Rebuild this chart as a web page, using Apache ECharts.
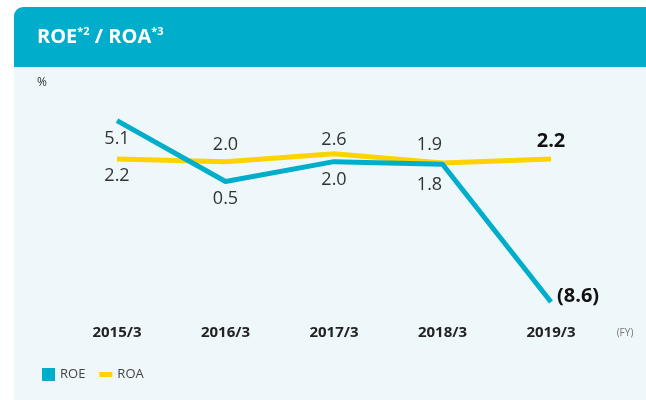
<!DOCTYPE html>
<html><head><meta charset="utf-8">
<script src="https://cdn.jsdelivr.net/npm/echarts@6/dist/echarts.min.js"></script>
<style>html,body{margin:0;padding:0;background:#fff}#c{width:646px;height:400px}</style>
</head><body><div id="c"></div>
<script>
var categories = ['2015/3', '2016/3', '2017/3', '2018/3', '2019/3'];
var roe = [5.1, 0.5, 2.0, 1.8, -8.6];
var roa = [2.2, 2.0, 2.6, 1.9, 2.2];

var TEAL = '#00aecb', YEL = '#ffd200';
var FONT = '"Open Sans", "Noto Sans", sans-serif';
function fmt(p){ var v = p.value; return v < 0 ? '(' + (-v).toFixed(1) + ')' : v.toFixed(1); }

var roeLab = [
  {position:'bottom', distance:9},
  {position:'bottom', distance:8},
  {position:'bottom', distance:9},
  {position:'bottom', distance:12, offset:[-13,0]},
  {position:'right', distance:6, offset:[0,-6], fontWeight:'bold', fontSize:20, color:'#111'}
];
var roaLab = [
  {position:'bottom', distance:8},
  {position:'top', distance:8},
  {position:'top', distance:5},
  {position:'top', distance:9, offset:[-13,0]},
  {position:'top', distance:8, fontWeight:'bold', fontSize:20, color:'#111'}
];
function build(vals, labs){
  return vals.map(function(v,i){ return {value:v, label:labs[i]}; });
}

var chart = echarts.init(document.getElementById('c'), null, {renderer:'canvas'});
chart.setOption({
  backgroundColor:'#fff',
  animation:false,
  textStyle:{fontFamily:FONT},
  graphic:[
    {type:'rect', z:-10, shape:{x:14, y:60, width:640, height:345}, style:{fill:'#eef7fa'}},
    {type:'rect', z:-9, shape:{x:14, y:7, width:640, height:60, r:[9,0,0,0]}, style:{fill:TEAL}},
    {type:'text', z:-8, x:37, y:37, style:{
      text:'ROE{s|*2} / ROA{s|*3}', fill:'#fff', font:'bold 20px ' + FONT, verticalAlign:'middle',
      rich:{s:{fontSize:11, fontWeight:'bold', fill:'#fff', fontFamily:FONT, verticalAlign:'top', padding:[0,0,10,0]}}
    }},
    {type:'text', x:37, y:83, style:{text:'%', fill:'#333', font:'12px ' + FONT, verticalAlign:'middle'}},
    {type:'text', x:625, y:333, style:{text:'(FY)', fill:'#777', font:'10px ' + FONT, align:'center', verticalAlign:'middle'}}
  ],
  legend:{
    left:37, top:363, itemWidth:13, itemHeight:13, itemGap:14,
    textStyle:{fontSize:13, color:'#444', fontFamily:FONT},
    data:[{name:'ROE', icon:'rect'}, {name:'ROA', icon:'path://M0,0h13v5h-13z'}]
  },
  grid:{left:62.75, right:40.75, top:108.7, height:211.8},
  xAxis:{
    type:'category', data:categories, boundaryGap:true,
    axisLine:{show:false, onZero:false}, axisTick:{show:false},
    axisLabel:{margin:5, fontSize:15, fontWeight:'bold', color:'#222', fontFamily:FONT}
  },
  yAxis:{type:'value', min:-10, max:6, show:false, splitLine:{show:false}},
  series:[
    {name:'ROE', type:'line', data:build(roe, roeLab), symbol:'circle', symbolSize:0,
     color:TEAL, lineStyle:{width:5, color:TEAL}, itemStyle:{color:TEAL},
     label:{show:true, formatter:fmt, fontSize:18, color:'#333', fontFamily:FONT}, z:3},
    {name:'ROA', type:'line', data:build(roa, roaLab), symbol:'circle', symbolSize:0,
     color:YEL, lineStyle:{width:5, color:YEL}, itemStyle:{color:YEL},
     label:{show:true, formatter:fmt, fontSize:18, color:'#333', fontFamily:FONT}, z:2}
  ]
});
</script></body></html>
